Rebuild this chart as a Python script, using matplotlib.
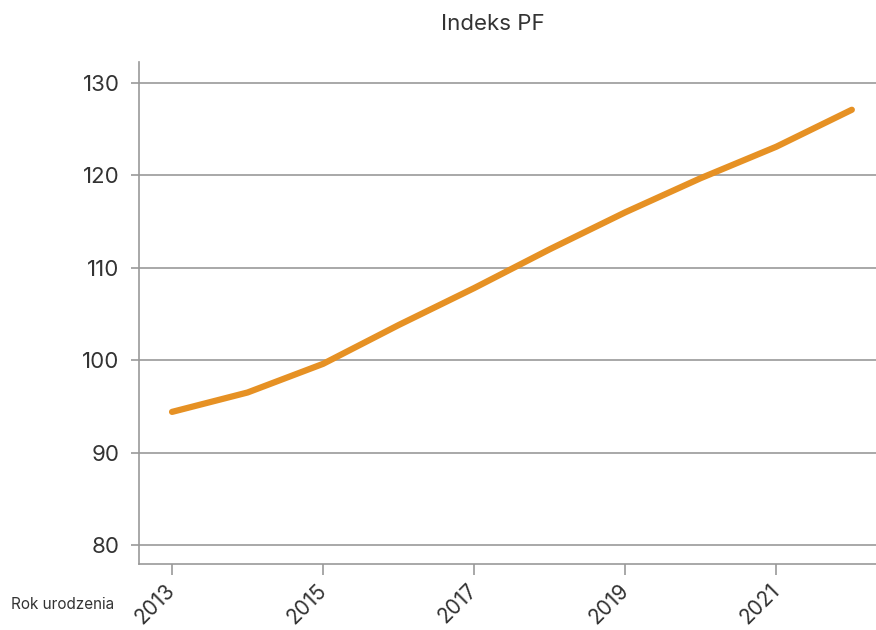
import matplotlib.pyplot as plt

# Indeks PF by birth year
years = [2013, 2014, 2015, 2016, 2017, 2018, 2019, 2020, 2021, 2022]
pf_index = [94.4, 96.5, 99.6, 103.8, 107.8, 112.0, 116.0, 119.7, 123.1, 127.1]

x_ticks = [2013, 2015, 2017, 2019, 2021]
y_ticks = [80, 90, 100, 110, 120, 130]

LINE_COLOR = '#E69124'
AXIS_COLOR = '#999999'
TEXT_COLOR = '#333333'

plt.rcParams['font.family'] = ['Inter', 'DejaVu Sans']

fig = plt.figure(figsize=(8.76, 6.3), dpi=100)
ax = fig.add_axes([0.1587, 0.1048, 0.8413, 0.7968])

ax.plot(years, pf_index, color=LINE_COLOR, linewidth=4.5,
        solid_capstyle='round', solid_joinstyle='round')

ax.set_xlim(2012.563, 2022.32)
ax.set_ylim(77.94, 132.27)
ax.set_xticks(x_ticks)
ax.set_yticks(y_ticks)
ax.set_xticklabels([str(t) for t in x_ticks], rotation=45, ha='right',
                   va='center', rotation_mode='anchor')

ax.grid(axis='y', color=AXIS_COLOR, linewidth=1.2)
ax.set_axisbelow(True)
for side in ('top', 'right'):
    ax.spines[side].set_visible(False)
for side in ('left', 'bottom'):
    ax.spines[side].set_color(AXIS_COLOR)
    ax.spines[side].set_linewidth(1.2)

ax.tick_params(axis='y', length=6, width=1.2, color=AXIS_COLOR,
               labelsize=16, labelcolor=TEXT_COLOR, pad=8)
ax.tick_params(axis='x', length=8, width=1.2, color=AXIS_COLOR,
               labelsize=15, labelcolor=TEXT_COLOR, pad=9)

fig.text(0.563, 0.962, 'Indeks PF', fontsize=16, color=TEXT_COLOR,
         ha='center', va='center')
fig.text(0.012, 0.04, 'Rok urodzenia', fontsize=11, color=TEXT_COLOR,
         ha='left', va='center')

fig.savefig('out.png', dpi=100)
